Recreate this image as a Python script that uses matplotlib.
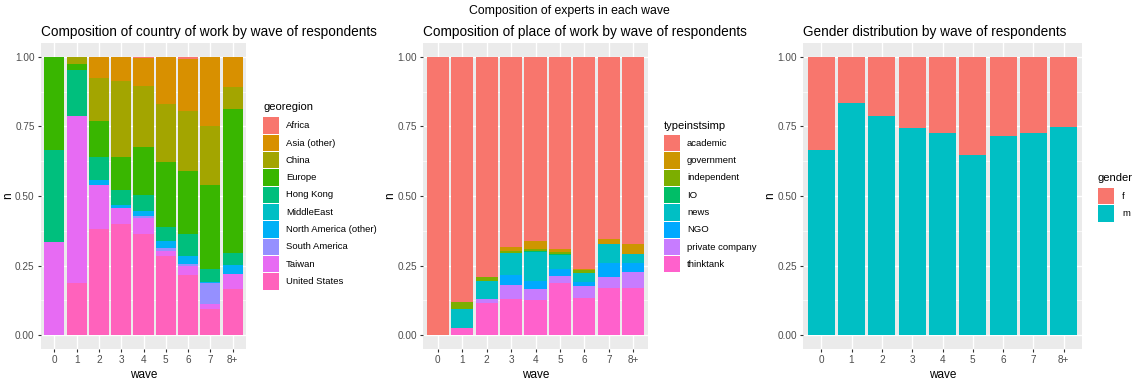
import matplotlib
matplotlib.use("Agg")
import matplotlib.pyplot as plt
from matplotlib.patches import Rectangle
import numpy as np

plt.rcParams['font.family'] = ['Liberation Sans', 'DejaVu Sans']

waves = ['0', '1', '2', '3', '4', '5', '6', '7', '8+']

# share of respondents by country of work (per wave)
geo_levels = ['Africa', 'Asia (other)', 'China', 'Europe', 'Hong Kong', 'MiddleEast',
              'North America (other)', 'South America', 'Taiwan', 'United States']
geo_colors = ['#F8766D', '#D89000', '#A3A500', '#39B600', '#00BF7D', '#00BFC4',
              '#00B0F6', '#9590FF', '#E76BF3', '#FF62BC']
africa        = [0, 0, 0, 0, 0.004, 0, 0.007, 0, 0]
asia_other    = [0, 0, 0.075, 0.087, 0.101, 0.168, 0.188, 0.247, 0.109]
china         = [0, 0.024, 0.157, 0.272, 0.220, 0.210, 0.216, 0.215, 0.078]
europe        = [0.334, 0.022, 0.127, 0.120, 0.172, 0.234, 0.227, 0.300, 0.517]
hong_kong     = [0.333, 0.165, 0.085, 0.052, 0.057, 0.050, 0.078, 0.046, 0.045]
middle_east   = [0, 0, 0, 0, 0, 0, 0, 0, 0]
north_america = [0, 0, 0.018, 0.012, 0.018, 0.024, 0.028, 0.006, 0.033]
south_america = [0, 0, 0, 0, 0.006, 0.012, 0.008, 0.076, 0]
taiwan        = [0.333, 0.603, 0.155, 0.056, 0.060, 0.016, 0.032, 0.015, 0.052]
united_states = [0, 0.186, 0.383, 0.401, 0.362, 0.286, 0.216, 0.095, 0.166]
geo_values = [africa, asia_other, china, europe, hong_kong, middle_east,
              north_america, south_america, taiwan, united_states]

# share of respondents by type of institution
inst_levels = ['academic', 'government', 'independent', 'IO', 'news', 'NGO',
               'private company', 'thinktank']
inst_colors = ['#F8766D', '#CD9600', '#7CAE00', '#00BE67', '#00BFC4', '#00A9FF',
               '#C77CFF', '#FF61CC']
government  = [0, 0, 0, 0.015, 0.030, 0.012, 0.004, 0.017, 0.033]
independent = [0, 0.026, 0.014, 0.006, 0.006, 0.005, 0.010, 0, 0]
io          = [0, 0, 0, 0, 0.004, 0.004, 0, 0, 0]
news        = [0, 0.068, 0.068, 0.078, 0.102, 0.051, 0.034, 0.070, 0.033]
ngo         = [0, 0, 0, 0.036, 0.029, 0.024, 0.014, 0.051, 0.034]
private_co  = [0, 0, 0.012, 0.053, 0.041, 0.028, 0.042, 0.039, 0.057]
thinktank   = [0, 0.024, 0.116, 0.128, 0.126, 0.186, 0.134, 0.169, 0.169]
academic = list(1 - np.sum([government, independent, io, news, ngo,
                            private_co, thinktank], axis=0))
inst_values = [academic, government, independent, io, news, ngo, private_co, thinktank]

# gender split
gender_levels = ['f', 'm']
gender_colors = ['#F8766D', '#00BFC4']
male = [0.667, 0.835, 0.789, 0.743, 0.725, 0.649, 0.717, 0.727, 0.747]
female = [1 - v for v in male]
gender_values = [female, male]

W, H = 1138, 383
fig = plt.figure(figsize=(W / 100, H / 100), dpi=100)


def box(x0, y0, x1, y1):
    return [x0 / W, 1 - y1 / H, (x1 - x0) / W, (y1 - y0) / H]


def stacked_panel(rect, title, levels, colors, values):
    ax = fig.add_axes(box(*rect))
    ax.set_facecolor('#EBEBEB')
    x = np.arange(len(waves))
    bottom = np.zeros(len(waves))
    # ggplot stacks the first level on top, so draw from the last level up
    for lev, col, vals in reversed(list(zip(levels, colors, values))):
        vals = np.array(vals)
        ax.bar(x, vals, bottom=bottom, width=0.9, color=col, linewidth=0, zorder=3)
        bottom += vals
    ax.set_xlim(-0.6, len(waves) - 0.4)
    ax.set_ylim(-0.05, 1.05)
    ax.set_yticks([0, 0.25, 0.5, 0.75, 1.0])
    ax.set_yticklabels(['0.00', '0.25', '0.50', '0.75', '1.00'])
    ax.set_yticks([0.125, 0.375, 0.625, 0.875], minor=True)
    ax.set_xticks(x)
    ax.set_xticklabels(waves)
    ax.grid(which='major', color='white', linewidth=1.0, zorder=0)
    ax.grid(which='minor', axis='y', color='white', linewidth=0.5, zorder=0)
    ax.set_axisbelow(True)
    for s in ax.spines.values():
        s.set_visible(False)
    ax.tick_params(which='major', length=2.5, width=0.8, color='#333333',
                   labelcolor='#4D4D4D', labelsize=7.2, pad=2)
    ax.tick_params(which='minor', length=0)
    ax.set_xlabel('wave', fontsize=8.5, labelpad=3)
    ax.set_ylabel('n', fontsize=8.5, labelpad=1)
    ax.set_title(title, loc='left', fontsize=9.85, pad=5)
    return ax


def legend(x, y_title, y_key, title, levels, colors, label_dx=23):
    fig.text(x / W, 1 - y_title / H, title, fontsize=8, va='center', ha='left')
    step = 17.3
    for i, (lev, col) in enumerate(zip(levels, colors)):
        top = y_key + i * step
        fig.patches.append(Rectangle((x / W, 1 - (top + 16.3) / H), 16.3 / W, 16.3 / H,
                                     transform=fig.transFigure, facecolor=col,
                                     edgecolor='none'))
        fig.text((x + label_dx) / W, 1 - (top + 8.2) / H, lev, fontsize=6.8,
                 va='center', ha='left')


stacked_panel((41, 43, 246, 349), 'Composition of country of work by wave of respondents',
              geo_levels, geo_colors, geo_values)
legend(263, 107, 117.5, 'georegion', geo_levels, geo_colors)

stacked_panel((423, 43, 648, 349), 'Composition of place of work by wave of respondents',
              inst_levels, inst_colors, inst_values)
legend(664, 126, 135, 'typeinstsimp', inst_levels, inst_colors)

stacked_panel((803, 43, 1082, 349), 'Gender distribution by wave of respondents',
              gender_levels, gender_colors, gender_values)
legend(1098, 178, 188, 'gender', gender_levels, gender_colors, label_dx=24)

fig.text(0.5, 1 - 11 / H, 'Composition of experts in each wave', fontsize=8.8,
         ha='center', va='center')

fig.savefig('out.png', dpi=100, facecolor='white')
